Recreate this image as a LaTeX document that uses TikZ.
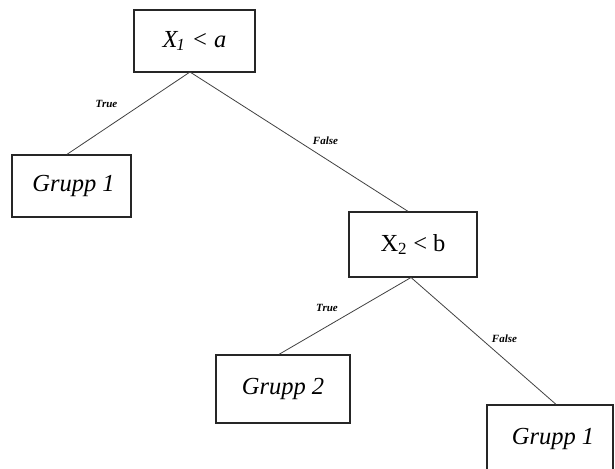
\documentclass[tikz,border=0pt]{standalone}
\usepackage{fontspec}
\setmainfont{Liberation Serif}
\begin{document}
\begin{tikzpicture}[x=1pt,y=-1pt,
  box/.style={draw=black!85,line width=1.3pt,inner sep=0pt,font=\fontsize{24.5}{26}\selectfont},
  edge/.style={draw=black!75,line width=0.8pt},
  lbl/.style={font=\fontsize{11}{12}\selectfont\bfseries\itshape,inner sep=0pt}]
\useasboundingbox (0,0) rectangle (615,468);
\clip (0,0) rectangle (615,468);
\node[box,minimum width=121pt,minimum height=62pt] (root) at (194.5,41) {\itshape X\textsubscript{\kern-1pt\fontsize{17}{17}\selectfont 1} < a};
\node[box,minimum width=119pt,minimum height=62pt] (g1) at (71.5,186) {\itshape\hspace{4pt}Grupp 1};
\node[box,minimum width=128pt,minimum height=65pt] (x2) at (413,244.5) {X\textsubscript{\fontsize{17}{17}\selectfont 2} < b};
\node[box,minimum width=134pt,minimum height=68pt] (g2) at (283,389) {\itshape Grupp 2};
\node[box,minimum width=126pt,minimum height=68pt] (g1r) at (550,439) {\itshape\hspace{6pt}Grupp 1};
\coordinate (rs) at (190,72);
\coordinate (xs) at (411,277.5);
\draw[edge] (rs) -- (g1.north -| 67,0);
\draw[edge] (rs) -- (x2.north -| 408,0);
\draw[edge] (xs) -- (g2.north -| 279,0);
\draw[edge] (xs) -- (g1r.north -| 556,0);
\node[lbl] (t1) at (106.5,104) {True};
\node[lbl] (f1) at (325.5,141) {False};
\node[lbl] (t2) at (327,308) {True};
\node[lbl] (f2) at (504.5,339) {False};
\end{tikzpicture}
\end{document}
